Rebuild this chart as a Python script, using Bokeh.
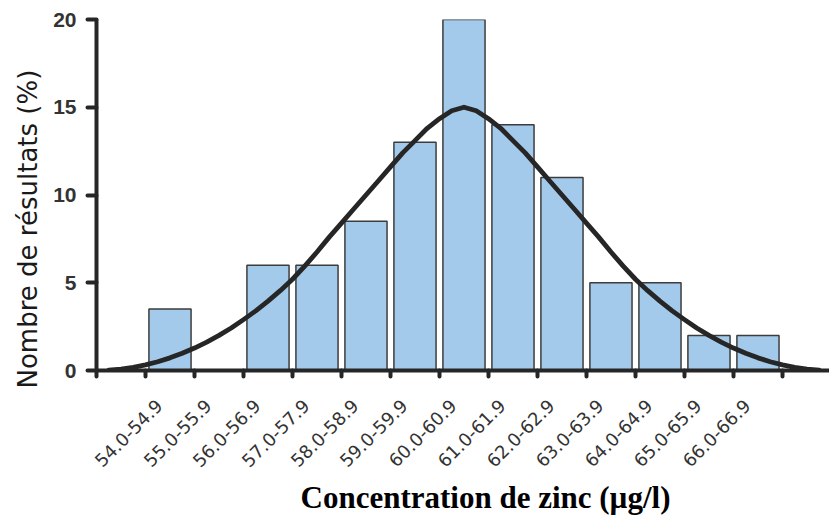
import math
from bokeh.plotting import figure
from bokeh.models import Range1d, FixedTicker, LinearAxis, Title
from bokeh.embed import file_html
from bokeh.resources import INLINE

# ---- data ----
classes = ["54.0-54.9", "55.0-55.9", "56.0-56.9", "57.0-57.9", "58.0-58.9",
           "59.0-59.9", "60.0-60.9", "61.0-61.9", "62.0-62.9", "63.0-63.9",
           "64.0-64.9", "65.0-65.9", "66.0-66.9"]
class_low = [54.0, 55.0, 56.0, 57.0, 58.0, 59.0, 60.0, 61.0, 62.0, 63.0, 64.0, 65.0, 66.0]
percent = [3.5, 0, 6, 6, 8.5, 13, 20, 14, 11, 5, 5, 2, 2]
y_ticks = [0, 5, 10, 15, 20]
class_edges = [53, 54, 55, 56, 57, 58, 59, 60, 61, 62, 63, 64, 65, 66, 67]

# fitted normal curve
curve_conc = [53.25, 53.5, 53.75, 54.0, 54.25, 54.5, 54.75, 55.0, 55.25, 55.5, 55.75,
              56.0, 56.25, 56.5, 56.75, 57.0, 57.25, 57.5, 57.75, 58.0, 58.25, 58.5,
              58.75, 59.0, 59.25, 59.5, 59.75, 60.0, 60.25, 60.5, 60.75, 61.0, 61.25,
              61.5, 61.75, 62.0, 62.25, 62.5, 62.75, 63.0, 63.25, 63.5, 63.75, 64.0,
              64.25, 64.5, 64.75, 65.0, 65.25, 65.5, 65.75, 66.0, 66.25, 66.5, 66.75,
              67.0, 67.25, 67.5, 67.75]
curve_pct = [0.02, 0.08, 0.18, 0.32, 0.5, 0.72, 0.98, 1.28, 1.62, 2.0, 2.42,
             2.9, 3.4, 3.95, 4.55, 5.2, 5.95, 6.75, 7.6, 8.4, 9.2, 10.0,
             10.8, 11.6, 12.4, 13.1, 13.8, 14.35, 14.8, 15.0, 14.8, 14.35, 13.8,
             13.1, 12.4, 11.6, 10.8, 10.0, 9.2, 8.4, 7.6, 6.75, 5.95, 5.2,
             4.55, 3.95, 3.4, 2.9, 2.42, 2.0, 1.62, 1.28, 0.98, 0.72, 0.5,
             0.32, 0.18, 0.08, 0.02]

bar_mid = [c + 0.5 for c in class_low]
label_pos = [c + 0.28 for c in class_low]

DARK = "#262626"

p = figure(width=829, height=521, x_range=Range1d(53, 67.96), y_range=Range1d(0, 20),
           output_backend="svg", toolbar_location=None,
           min_border_left=96, min_border_right=0, min_border_top=19, min_border_bottom=151)
p.outline_line_color = None
p.xgrid.visible = False
p.ygrid.visible = False

p.vbar(x=bar_mid, top=percent, width=0.86, fill_color="#a4caeb",
       line_color="#3c3c3c", line_width=1.5)
p.line(curve_conc, curve_pct, line_width=4.8, line_color=DARK,
       line_cap="round", line_join="round")

# main x axis: tick marks at class boundaries, no labels
xa = p.xaxis[0]
xa.ticker = FixedTicker(ticks=class_edges)
xa.major_label_overrides = {e: "" for e in class_edges}
xa.axis_line_width = 4
xa.axis_line_color = DARK
xa.major_tick_line_width = 4
xa.major_tick_line_color = DARK
xa.major_tick_line_cap = "round"
xa.major_tick_out = 6
xa.major_tick_in = 0
xa.minor_tick_line_color = None
xa.major_label_standoff = 0

# label axis: class names under their bars
xb = LinearAxis(ticker=FixedTicker(ticks=label_pos),
                major_label_overrides={m: c for m, c in zip(label_pos, classes)})
xb.axis_line_color = None
xb.major_tick_line_color = None
xb.minor_tick_line_color = None
xb.major_label_orientation = math.pi / 4
xb.major_label_text_font = "DejaVu Sans"
xb.major_label_text_font_size = "18px"
xb.major_label_text_color = "#333333"
xb.major_label_standoff = 20
p.add_layout(xb, "below")

ya = p.yaxis[0]
ya.ticker = FixedTicker(ticks=y_ticks)
ya.axis_line_width = 4
ya.axis_line_color = DARK
ya.major_tick_line_width = 4
ya.major_tick_line_color = DARK
ya.major_tick_line_cap = "round"
ya.major_tick_out = 9
ya.major_tick_in = 0
ya.minor_tick_line_color = None
ya.major_label_text_font = "Liberation Sans"
ya.major_label_text_font_style = "bold"
ya.major_label_text_font_size = "21px"
ya.major_label_text_color = "#333333"
ya.major_label_standoff = 11

p.add_layout(Title(text="Concentration de zinc (µg/l)", align="left", offset=204,
                   text_font="Liberation Serif", text_font_style="bold",
                   text_font_size="31px", text_color="#000000", standoff=5), "below")
p.add_layout(Title(text="Nombre de résultats (%)", align="left", offset=-18,
                   text_font="DejaVu Sans", text_font_style="normal",
                   text_font_size="26px", text_color="#1a1a1a", standoff=15), "left")

open("out.html", "w").write(file_html(p, INLINE))
